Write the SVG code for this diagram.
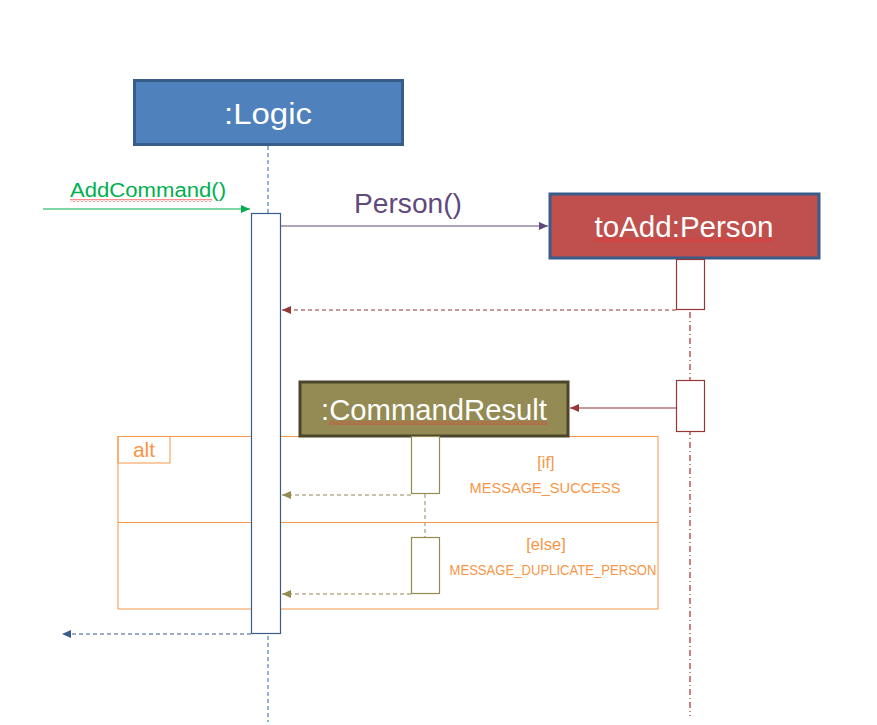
<svg xmlns="http://www.w3.org/2000/svg" width="877" height="725" viewBox="0 0 877 725">
<style>
text{font-family:"Liberation Sans",Arial,sans-serif}
.wt{fill:#fff;font-size:29px;text-anchor:middle}
.or{fill:#f79646;font-size:16.5px;text-anchor:middle}
.act{fill:#fff;stroke-width:1.2}
</style>
<defs>
<marker id="aG" markerWidth="10" markerHeight="8" refX="9" refY="4" orient="auto" markerUnits="userSpaceOnUse"><path d="M0,0 L9,4 L0,8 Z" fill="#00b050"/></marker>
<marker id="aP" markerWidth="10" markerHeight="8" refX="9" refY="4" orient="auto" markerUnits="userSpaceOnUse"><path d="M0,0 L9,4 L0,8 Z" fill="#604a7c"/></marker>
<marker id="aR" markerWidth="10" markerHeight="8" refX="9" refY="4" orient="auto" markerUnits="userSpaceOnUse"><path d="M0,0 L9,4 L0,8 Z" fill="#953735"/></marker>
<marker id="aO" markerWidth="10" markerHeight="8" refX="9" refY="4" orient="auto" markerUnits="userSpaceOnUse"><path d="M0,0 L9,4 L0,8 Z" fill="#948a54"/></marker>
<marker id="aB" markerWidth="10" markerHeight="8" refX="9" refY="4" orient="auto" markerUnits="userSpaceOnUse"><path d="M0,0 L9,4 L0,8 Z" fill="#385d8a"/></marker>
<pattern id="sq" width="4" height="3" patternUnits="userSpaceOnUse"><path d="M0,2.5 L2,0.5 L4,2.5" fill="none" stroke="#ff2020" stroke-width="1"/></pattern>
</defs>

<!-- lifelines -->
<g id="lifelines">
<line x1="268" y1="146" x2="268" y2="722" stroke="#4f81bd" stroke-width="1.2" stroke-dasharray="4,3"/>
<line x1="690" y1="260" x2="690" y2="716" stroke="#a5302d" stroke-width="1.2" stroke-dasharray="6,3,1,3"/>
<line x1="425" y1="494" x2="425" y2="537" stroke="#948a54" stroke-width="1" stroke-dasharray="4,3"/>
</g>

<!-- alt frame -->
<g id="alt">
<rect x="118" y="436.5" width="540" height="172.5" fill="none" stroke="#f79646" stroke-width="1"/>
<line x1="118" y1="522.5" x2="658" y2="522.5" stroke="#f79646" stroke-width="1"/>
<rect x="118" y="436.5" width="52" height="26.5" fill="none" stroke="#f79646" stroke-width="1"/>
<text x="144" y="457" style="fill:#f79646;font-size:21px;text-anchor:middle">alt</text>
<text x="546" y="468" class="or">[if]</text>
<text x="545" y="493" class="or" style="font-size:15.5px" textLength="151" lengthAdjust="spacingAndGlyphs">MESSAGE_SUCCESS</text>
<text x="546" y="550" class="or">[else]</text>
<text x="553" y="575" class="or" style="font-size:14px" textLength="207" lengthAdjust="spacingAndGlyphs">MESSAGE_DUPLICATE_PERSON</text>
</g>

<!-- nodes -->
<g id="logic">
<rect x="134.5" y="80.5" width="268" height="64" fill="#4f81bd" stroke="#385d8a" stroke-width="3"/>
<text x="268" y="124" class="wt" textLength="88" lengthAdjust="spacingAndGlyphs">:Logic</text>
<rect x="251.5" y="213.5" width="29" height="420" class="act" stroke="#385d8a"/>
</g>

<g id="toAdd">
<rect x="550" y="194" width="269" height="64" fill="#c0504d" stroke="#385d8a" stroke-width="3"/>
<text x="684" y="237" class="wt" textLength="179" lengthAdjust="spacingAndGlyphs">toAdd:Person</text>
<rect x="594" y="238.5" width="179" height="3" fill="url(#sq)"/>
<rect x="676.5" y="259.5" width="28" height="50" class="act" stroke="#953735"/>
<rect x="676.5" y="380.5" width="28" height="51" class="act" stroke="#953735"/>
</g>

<g id="commandResult">
<rect x="300" y="382" width="268" height="54" fill="#948a54" stroke="#4a452a" stroke-width="3"/>
<text x="434" y="420" class="wt" textLength="226" lengthAdjust="spacingAndGlyphs">:CommandResult</text>
<rect x="329" y="421.5" width="218" height="3" fill="url(#sq)"/>
<rect x="411.5" y="436.5" width="28" height="57" class="act" stroke="#948a54"/>
<rect x="411.5" y="537.5" width="28" height="56" class="act" stroke="#948a54"/>
</g>

<!-- connectors -->
<g id="connectors" fill="none" stroke-width="1.2">
<line x1="43" y1="209" x2="250" y2="209" stroke="#00b050" marker-end="url(#aG)"/>
<line x1="281" y1="226" x2="548" y2="226" stroke="#604a7c" marker-end="url(#aP)"/>
<line x1="676" y1="310" x2="282" y2="310" stroke="#953735" stroke-dasharray="4,3" marker-end="url(#aR)"/>
<line x1="676" y1="408" x2="570" y2="408" stroke="#953735" marker-end="url(#aR)"/>
<line x1="411" y1="495" x2="282" y2="495" stroke="#948a54" stroke-dasharray="4,3" marker-end="url(#aO)"/>
<line x1="411" y1="594" x2="282" y2="594" stroke="#948a54" stroke-dasharray="4,3" marker-end="url(#aO)"/>
<line x1="251" y1="634" x2="62" y2="634" stroke="#385d8a" stroke-dasharray="4,3" marker-end="url(#aB)"/>
</g>

<g id="labels">
<text x="148" y="197" style="fill:#00b050;font-size:20px;text-anchor:middle" textLength="156" lengthAdjust="spacingAndGlyphs">AddCommand()</text>
<rect x="70" y="199" width="142" height="3" fill="url(#sq)"/>
<text x="408" y="213" style="fill:#604a7c;font-size:27px;text-anchor:middle" textLength="108" lengthAdjust="spacingAndGlyphs">Person()</text>
</g>
</svg>
